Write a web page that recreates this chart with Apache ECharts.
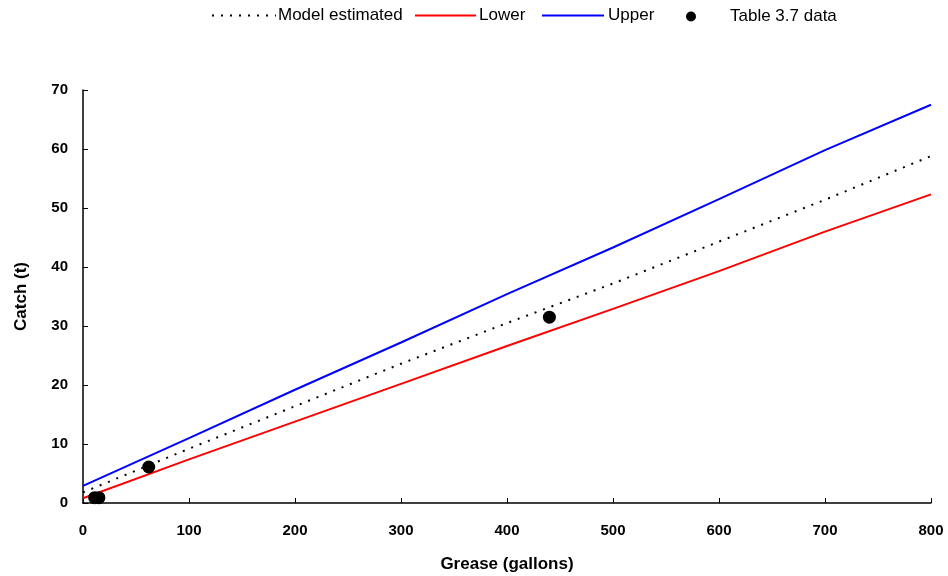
<!DOCTYPE html>
<html>
<head>
<meta charset="utf-8">
<script src="https://cdn.jsdelivr.net/npm/echarts@6/dist/echarts.min.js"></script>
<style>html,body{margin:0;padding:0;background:#fff}#c{width:948px;height:576px}</style>
</head>
<body>
<div id="c"></div>
<script>
const greaseX = [0, 100, 200, 300, 400, 500, 600, 700, 800];
const modelEstimated = [1.8, 9.2, 16.4, 23.6, 30.5, 37.2, 44.3, 51.4, 58.8];
const lower = [0.8, 7.4, 13.8, 20.2, 26.6, 32.9, 39.3, 46.0, 52.3];
const upper = [2.9, 11.0, 19.2, 27.2, 35.4, 43.3, 51.5, 59.8, 67.5];
const dataGrease = [11, 15, 62, 440];
const dataCatch = [0.9, 0.9, 6.1, 31.5];
const xTicks = [0, 100, 200, 300, 400, 500, 600, 700, 800];
const yTicks = [0, 10, 20, 30, 40, 50, 60, 70];

const pairs = (xs, ys) => xs.map((x, i) => [x, ys[i]]);
const font = 'Liberation Sans, Arial, sans-serif';
const legendText = {fontFamily: font, fontSize: 17, color: '#000'};
const hiddenSymbol = {opacity: 0};

const chart = echarts.init(document.getElementById('c'), null, {renderer: 'canvas'});
chart.setOption({
  animation: false,
  backgroundColor: '#fff',
  legend: [
    {data: ['Model estimated'], left: 211, top: 7, itemWidth: 64, itemHeight: 12, itemGap: 2, itemStyle: hiddenSymbol, textStyle: Object.assign({padding: [0, 0, 0, -3]}, legendText), padding: 0},
    {data: ['Lower'], left: 414, top: 7, itemWidth: 61, itemHeight: 12, itemStyle: hiddenSymbol, textStyle: Object.assign({padding: [0, 0, 0, -2]}, legendText), padding: 0},
    {data: ['Upper'], left: 541, top: 7, itemWidth: 62, itemHeight: 12, itemStyle: hiddenSymbol, textStyle: Object.assign({padding: [0, 0, 0, -1]}, legendText), padding: 0},
    {data: ['Table 3.7 data'], left: 686, top: 8, icon: 'circle', itemWidth: 10, itemHeight: 10, textStyle: Object.assign({padding: [0, 0, 0, 29]}, legendText), padding: 0}
  ],
  grid: {left: 83, right: 17, top: 90, bottom: 73, containLabel: false, outerBoundsMode: 'none'},
  xAxis: {
    type: 'value', min: 0, max: 800, interval: 100,
    name: 'Grease (gallons)', nameLocation: 'middle', nameGap: 53,
    nameTextStyle: {fontFamily: font, fontSize: 17, fontWeight: 'bold', color: '#000'},
    axisLine: {show: true, onZero: false, lineStyle: {color: '#000', width: 1.5}},
    axisTick: {show: true, inside: true, length: 5, lineStyle: {color: '#000'}},
    axisLabel: {fontFamily: font, fontSize: 15, fontWeight: 'bold', color: '#000', margin: 20,
      formatter: v => xTicks.includes(v) ? String(v) : ''},
    splitLine: {show: false}
  },
  yAxis: {
    type: 'value', min: 0, max: 70, interval: 10,
    name: 'Catch (t)', nameLocation: 'middle', nameGap: 53, nameRotate: 90,
    nameTextStyle: {fontFamily: font, fontSize: 17, fontWeight: 'bold', color: '#000'},
    axisLine: {show: true, lineStyle: {color: '#000', width: 1.5}},
    axisTick: {show: true, inside: true, length: 5, lineStyle: {color: '#000'}},
    axisLabel: {fontFamily: font, fontSize: 15, fontWeight: 'bold', color: '#000', margin: 15,
      formatter: v => yTicks.includes(v) ? String(v) : ''},
    splitLine: {show: false}
  },
  series: [
    {name: 'Model estimated', type: 'line', data: pairs(greaseX, modelEstimated), symbol: 'none',
     lineStyle: {color: '#000', width: 2, type: [2, 7]}, itemStyle: {color: '#000'}, z: 3},
    {name: 'Lower', type: 'line', data: pairs(greaseX, lower), symbol: 'none',
     lineStyle: {color: '#ff0000', width: 2}, itemStyle: {color: '#ff0000'}},
    {name: 'Upper', type: 'line', data: pairs(greaseX, upper), symbol: 'none',
     lineStyle: {color: '#0000ff', width: 2}, itemStyle: {color: '#0000ff'}},
    {name: 'Table 3.7 data', type: 'scatter', data: pairs(dataGrease, dataCatch), symbol: 'circle', symbolSize: 13,
     itemStyle: {color: '#000', opacity: 1}, z: 5}
  ]
});
</script>
</body>
</html>
